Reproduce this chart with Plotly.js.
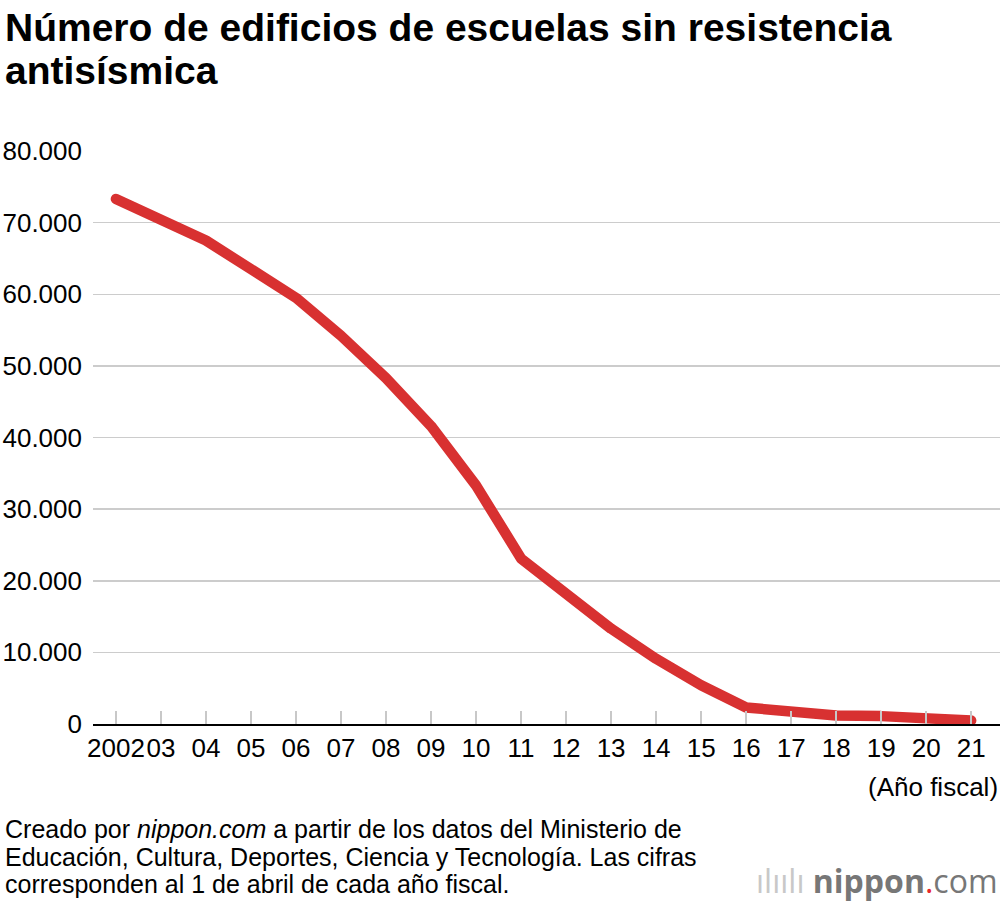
<!DOCTYPE html>
<html>
<head>
<meta charset="utf-8">
<script src="https://cdn.plot.ly/plotly-3.0.1.min.js"></script>
<style>
  html, body { margin: 0; padding: 0; background: #fff; }
  #chart { width: 1000px; height: 902px; }
  #chart .js-line { stroke-linecap: round; stroke-linejoin: round; }
</style>
</head>
<body>
<div id="chart"></div>
<script>
// fiscal years (tick labels) and number of school buildings without seismic resistance
const years = ['2002', '03', '04', '05', '06', '07', '08', '09', '10', '11',
               '12', '13', '14', '15', '16', '17', '18', '19', '20', '21'];
const buildings = [73300, 70400, 67500, 63500, 59500, 54200, 48300, 41600, 33300, 23100,
                   18400, 13300, 9100, 5400, 2300, 1600, 1200, 1100, 800, 500];
const yTicks = [0, 10000, 20000, 30000, 40000, 50000, 60000, 70000, 80000];

const titleLines = ['Número de edificios de escuelas sin resistencia', 'antisísmica'];
const sourceLines = [
  'Creado por <i>nippon.com</i> a partir de los datos del Ministerio de',
  'Educación, Cultura, Deportes, Ciencia y Tecnología. Las cifras',
  'corresponden al 1 de abril de cada año fiscal.'
];

const FONT = '"Liberation Sans", Arial, Helvetica, sans-serif';

const traces = [
  {
    x: years,
    y: buildings,
    type: 'scatter',
    mode: 'lines',
    line: { color: '#d83131', width: 10.5 },
    hoverinfo: 'x+y',
    cliponaxis: false
  }
];

// plot area runs from 93px to 1000px across and 151px to 724px down
const px2x = px => (px - 93) / 907;
const py2y = py => (724 - py) / 573;

const annotations = [];
titleLines.forEach((t, i) => {
  annotations.push({
    text: '<b>' + t + '</b>',
    xref: 'paper', yref: 'paper',
    x: px2x(3), y: py2y(27 + i * 43),
    xanchor: 'left', yanchor: 'middle',
    showarrow: false,
    font: { family: FONT, size: 39, color: '#000' }
  });
});
sourceLines.forEach((t, i) => {
  annotations.push({
    text: t,
    xref: 'paper', yref: 'paper',
    x: px2x(3), y: py2y(829 + i * 27.5),
    xanchor: 'left', yanchor: 'middle',
    showarrow: false,
    font: { family: FONT, size: 25, color: '#000' }
  });
});
annotations.push({
  text: '(Año fiscal)',
  xref: 'paper', yref: 'paper',
  x: 1, y: py2y(787),
  xanchor: 'right', yanchor: 'middle',
  showarrow: false,
  font: { family: FONT, size: 26, color: '#000' }
});
annotations.push({
  text: '<span style="color:#c8c8c8">ılıılı</span> <b>nippon</b><span style="color:#e8262b">.</span>com',
  xref: 'paper', yref: 'paper',
  x: 1, y: py2y(880),
  xanchor: 'right', yanchor: 'middle',
  showarrow: false,
  font: { family: '"Open Sans", "DejaVu Sans", sans-serif', size: 32, color: '#777' }
});

const layout = {
  width: 1000,
  height: 902,
  paper_bgcolor: '#fff',
  plot_bgcolor: '#fff',
  showlegend: false,
  separators: ',.',
  font: { family: FONT, color: '#000', size: 26 },
  margin: { l: 93, r: 0, t: 151, b: 178, pad: 0 },
  xaxis: {
    type: 'category',
    range: [-0.51, 19.64],
    showgrid: false,
    showline: true,
    linecolor: '#000',
    linewidth: 2,
    ticks: 'inside',
    ticklen: 13,
    tickwidth: 1.5,
    tickcolor: '#c8c8c8',
    tickangle: 0,
    tickfont: { family: FONT, size: 26, color: '#000' },
    fixedrange: true
  },
  yaxis: {
    range: [0, 80000],
    tickmode: 'array',
    tickvals: yTicks,
    tickformat: ',d',
    showgrid: true,
    gridcolor: '#cccccc',
    gridwidth: 1.5,
    zeroline: false,
    showline: false,
    ticks: '',
    ticklabelstandoff: 10,
    tickfont: { family: FONT, size: 26, color: '#000' },
    fixedrange: true
  },
  annotations: annotations
};

Plotly.newPlot('chart', traces, layout, { displayModeBar: false, staticPlot: true });
</script>
</body>
</html>
